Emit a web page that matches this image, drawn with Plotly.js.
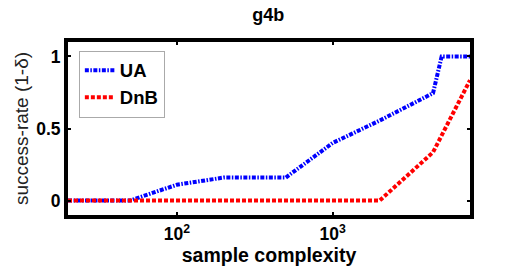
<!DOCTYPE html>
<html>
<head>
<meta charset="utf-8">
<script src="https://cdn.plot.ly/plotly-3.0.1.min.js"></script>
<style>html,body{margin:0;padding:0;background:#fff;}#chart{width:521px;height:269px;}</style>
</head>
<body>
<div id="chart"></div>
<script>
// Data
const uaSizes   = [20, 50, 100, 200, 500, 1000, 2000, 4400, 5000, 7600];
const uaRate    = [0, 0, 0.11, 0.16, 0.16, 0.40, 0.555, 0.745, 1.0, 1.0];
const dnbSizes  = [20, 50, 100, 200, 500, 1000, 2000, 4400, 7600];
const dnbRate   = [0, 0, 0, 0, 0, 0, 0, 0.335, 0.835];
const xTickVals = [100, 1000];
const xTickText = ['<b>10<sup>2</sup></b>', '<b>10<sup>3</sup></b>'];
const yTickVals = [0, 0.5, 1];
const yTickText = ['<b>0</b>', '<b>0.5</b>', '<b>1</b>'];

const font = 'Liberation Sans, Arial, Helvetica, sans-serif';

const traces = [
  {x: uaSizes, y: uaRate, name: '<b>UA</b>', mode: 'lines',
   line: {color: '#0000ff', width: 4, dash: '4px,1.5px,1.5px,1.5px'}},
  {x: dnbSizes, y: dnbRate, name: '<b>DnB</b>', mode: 'lines',
   line: {color: '#ff0000', width: 4, dash: '4px,2px'}}
];

const layout = {
  width: 521, height: 269,
  margin: {l: 68, r: 51, t: 42, b: 54},
  paper_bgcolor: '#fff', plot_bgcolor: '#fff',
  font: {family: font, color: '#000', size: 17},
  showlegend: true,
  title: {text: '<b>g4b</b>', font: {family: font, size: 18, color: '#000'},
          x: 0.515, xanchor: 'center', y: 0.944, yref: 'container', yanchor: 'middle'},
  xaxis: {
    type: 'log', range: [Math.log10(20), Math.log10(7600)],
    tickmode: 'array', tickvals: xTickVals, ticktext: xTickText,
    ticks: 'inside', ticklen: 3, tickwidth: 2, tickcolor: '#000',
    showline: true, linewidth: 4, linecolor: '#000', mirror: 'ticks',
    showgrid: false, zeroline: false,
    tickfont: {family: font, size: 17.5, color: '#000'},
    title: {text: '<b>sample complexity</b>', font: {family: font, size: 19.5, color: '#000'}, standoff: 0}
  },
  yaxis: {
    range: [-0.1, 1.1],
    tickmode: 'array', tickvals: yTickVals, ticktext: yTickText,
    ticks: 'inside', ticklen: 3, tickwidth: 2, tickcolor: '#000',
    showline: true, linewidth: 4, linecolor: '#000', mirror: 'ticks',
    showgrid: false, zeroline: false,
    tickfont: {family: font, size: 17.5, color: '#000'},
    title: {text: 'success-rate (1-δ)', font: {family: font, size: 19, color: '#222'}, standoff: 4}
  },
  legend: {
    x: 0.027, y: 0.95, xanchor: 'left', yanchor: 'top',
    bgcolor: '#fff', bordercolor: '#aaa', borderwidth: 1,
    font: {family: font, size: 18.5, color: '#000'},
    itemwidth: 30, tracegroupgap: 0
  }
};

Plotly.newPlot('chart', traces, layout, {displayModeBar: false, staticPlot: true});
</script>
</body>
</html>
